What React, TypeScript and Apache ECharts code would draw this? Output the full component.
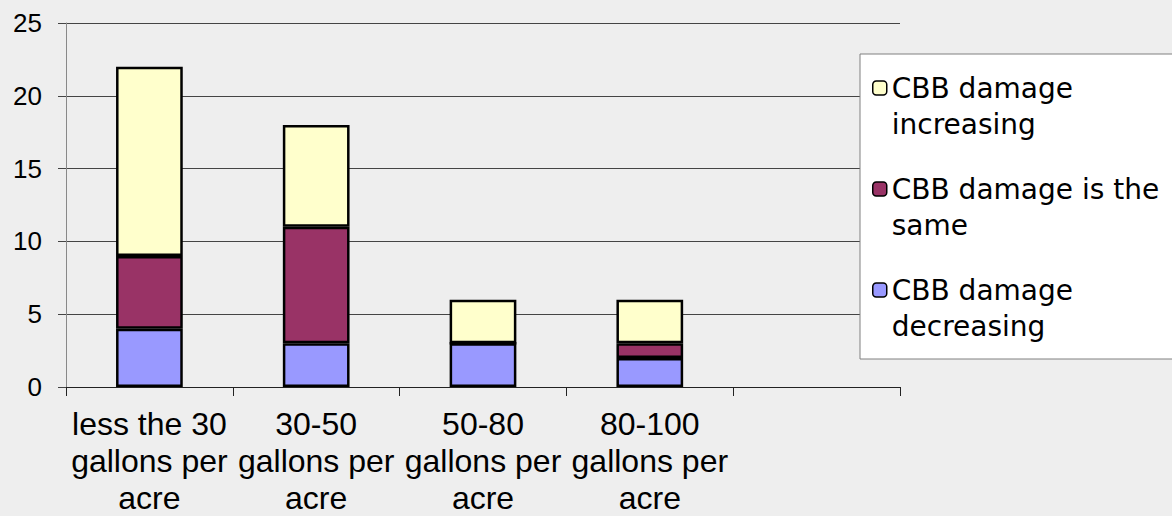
import React, { useEffect, useRef } from "react";
import * as echarts from "echarts";

const categories = [
  "less the 30\ngallons per\nacre",
  "30-50\ngallons per\nacre",
  "50-80\ngallons per\nacre",
  "80-100\ngallons per\nacre",
  "",
];
const decreasing = [4, 3, 3, 2, null];
const same = [5, 8, 0, 1, null];
const increasing = [13, 7, 3, 3, null];
const seriesNames = ["CBB damage decreasing", "CBB damage is the same", "CBB damage increasing"];
const legendLabels: Record<string, string> = {
  "CBB damage increasing": "CBB damage\nincreasing",
  "CBB damage is the same": "CBB damage is the\nsame",
  "CBB damage decreasing": "CBB damage\ndecreasing",
};
const colors = ["#9999ff", "#993366", "#ffffcc"];

export default function App() {
  const ref = useRef<HTMLDivElement>(null);
  useEffect(() => {
    if (!ref.current) return;
    const chart = echarts.init(ref.current, undefined, { renderer: "svg" });
    const values = [decreasing, same, increasing];
    chart.setOption({
      animation: false,
      backgroundColor: "#eeeeee",
      grid: { left: 66, right: 272, top: 23, bottom: 126, containLabel: false },
      graphic: [
        {
          type: "rect",
          z: 5,
          shape: { x: 860, y: 54, width: 340, height: 305 },
          style: { fill: "#ffffff", stroke: "#808080", lineWidth: 1 },
        },
      ],
      legend: {
        orient: "vertical",
        left: 872,
        top: 34,
        z: 10,
        padding: 0,
        itemGap: -7,
        itemWidth: 14,
        itemHeight: 14,
        data: ["CBB damage increasing", "CBB damage is the same", "CBB damage decreasing"],
        formatter: (n: string) => "\n" + (legendLabels[n] || n),
        itemStyle: { borderColor: "#000", borderWidth: 1.5 },
        textStyle: {
          fontFamily: "DejaVu Sans",
          fontSize: 28,
          lineHeight: 36,
          color: "#000",
        },
        selectedMode: false,
      },
      xAxis: {
        type: "category",
        data: categories,
        axisLine: { show: true, lineStyle: { color: "#222", width: 1 } },
        axisTick: { show: true, length: 9, alignWithLabel: false, lineStyle: { color: "#222" } },
        axisLabel: {
          interval: 0,
          margin: 18,
          fontFamily: "Liberation Sans",
          fontSize: 32,
          lineHeight: 37,
          color: "#000",
        },
      },
      yAxis: {
        type: "value",
        min: 0,
        max: 25,
        interval: 5,
        axisLine: { show: true, lineStyle: { color: "#888", width: 1 } },
        axisTick: { show: true, length: 8, lineStyle: { color: "#444" } },
        axisLabel: {
          margin: 24,
          fontFamily: "Liberation Sans",
          fontSize: 26,
          color: "#000",
        },
        splitLine: { show: true, lineStyle: { color: "#444", width: 1 } },
      },
      series: seriesNames.map((name, i) => ({
        name,
        type: "bar",
        stack: "total",
        barWidth: "40%",
        data: values[i],
        itemStyle: { color: colors[i], borderColor: "#000", borderWidth: 2.5 },
      })),
    });
    return () => chart.dispose();
  }, []);
  return (
    <div
      ref={ref}
      style={{ position: "fixed", left: 0, top: 0, width: 1172, height: 516 }}
    />
  );
}
